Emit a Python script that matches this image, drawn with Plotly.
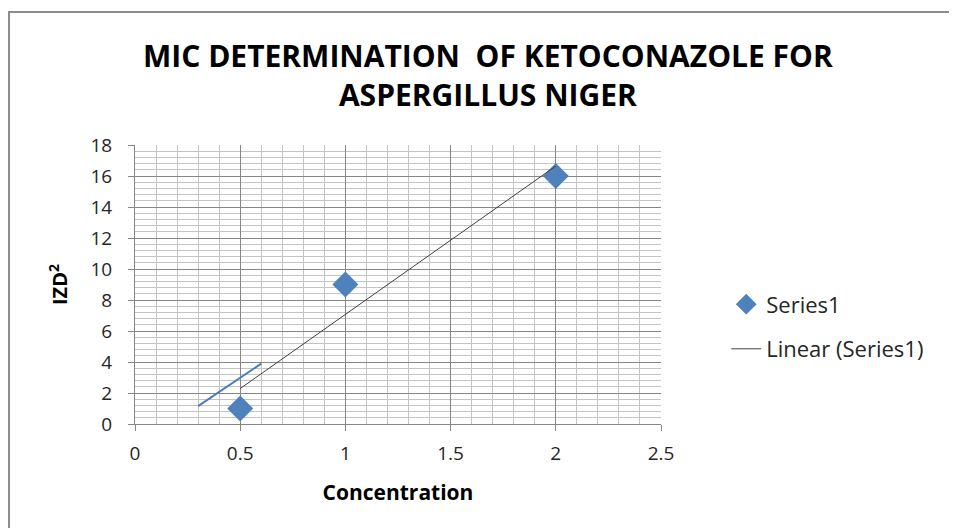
import numpy as np
import plotly.graph_objects as go

# data
concentration = [0.5, 1, 2]
izd_sq = [1, 9, 16]

# stray blue segment drawn on the chart
stray_x = [0.3, 0.6]
stray_y = [1.15, 3.9]

x_ticks = [0, 0.5, 1, 1.5, 2, 2.5]
y_ticks = [0, 2, 4, 6, 8, 10, 12, 14, 16, 18]

# linear trendline through the series
slope, intercept = np.polyfit(concentration, izd_sq, 1)
trend_x = [min(concentration), max(concentration)]
trend_y = [slope * v + intercept for v in trend_x]

blue = "#4F81BD"
font_name = "Open Sans"

fig = go.Figure()

fig.add_trace(go.Scatter(
    x=stray_x, y=stray_y, mode="lines",
    line=dict(color="#4A7EBB", width=2),
    showlegend=False, hoverinfo="skip"
))

fig.add_trace(go.Scatter(
    x=concentration, y=izd_sq, mode="markers", name="Series1",
    legendgroup="a",
    marker=dict(symbol="diamond", size=20, color=blue)
))

fig.add_trace(go.Scatter(
    x=trend_x, y=trend_y, mode="lines", name="Linear (Series1)",
    legendgroup="b",
    line=dict(color="#404040", width=1)
))

fig.update_layout(
    width=957, height=528,
    margin=dict(l=127, r=304, t=137, b=112),
    paper_bgcolor="white", plot_bgcolor="white",
    font=dict(family=font_name, size=19, color="#262626"),
    showlegend=True,
    legend=dict(x=1.124, y=0.348, xanchor="left", yanchor="middle",
                font=dict(size=22, color="#262626"),
                tracegroupgap=13, bgcolor="rgba(0,0,0,0)"),
    annotations=[
        dict(text="<b>MIC DETERMINATION  OF KETOCONAZOLE FOR<br>ASPERGILLUS NIGER</b>",
             xref="paper", yref="paper", x=0.671, y=1.251, xanchor="center", yanchor="middle",
             showarrow=False, font=dict(size=30, color="black", family=font_name),
             align="center"),
    ],
    shapes=[
        dict(type="rect", xref="paper", yref="paper",
             x0=-0.2395, y0=-0.45, x1=1.6, y1=1.477,
             line=dict(color="#8C8C8C", width=2), layer="below"),
    ],
)

fig.update_xaxes(
    range=[0, 2.5], tickvals=x_ticks, ticktext=[str(v) for v in x_ticks],
    showline=True, linecolor="#868686", linewidth=1,
    ticks="outside", ticklen=6, tickcolor="#868686", ticklabelstandoff=6,
    showgrid=True, gridcolor="#868686", gridwidth=1,
    minor=dict(dtick=0.1, showgrid=True, gridcolor="#C4C4C4", gridwidth=1),
    zeroline=False,
    title=dict(text="<b>Concentration</b>", font=dict(size=21, color="black"), standoff=20),
)

fig.update_yaxes(
    range=[0, 18], tickvals=y_ticks,
    showline=True, linecolor="#868686", linewidth=1,
    ticks="outside", ticklen=6, tickcolor="#868686", ticklabelstandoff=12,
    showgrid=True, gridcolor="#868686", gridwidth=1,
    minor=dict(dtick=0.4, showgrid=True, gridcolor="#C4C4C4", gridwidth=1),
    zeroline=False,
    title=dict(text="<b>IZD<sup>2</sup></b>", font=dict(size=20, color="black"), standoff=17),
)

fig.write_html("out.html")
